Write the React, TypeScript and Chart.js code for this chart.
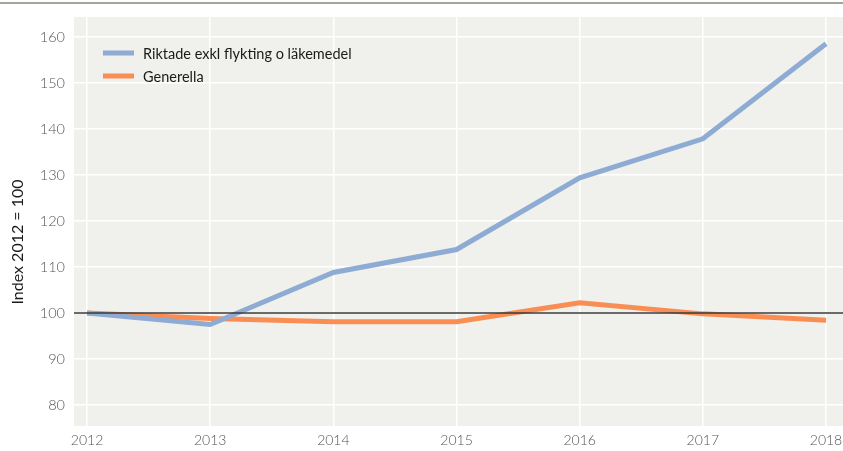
import React, { useEffect, useRef } from "react";
import { Chart, registerables } from "chart.js";

Chart.register(...registerables);

const years = [2012, 2013, 2014, 2015, 2016, 2017, 2018];
const riktade = [100, 97.5, 108.8, 113.8, 129.4, 137.9, 158.6];
const generella = [100, 98.8, 98.1, 98.1, 102.2, 99.8, 98.4];
const yTicks = [80, 90, 100, 110, 120, 130, 140, 150, 160];
const seriesLabels = ["Riktade exkl flykting o läkemedel", "Generella"];
const yTitle = "Index 2012 = 100";

const FONT = "Lato, 'Open Sans', sans-serif";

const decorPlugin = {
  id: "decor",
  beforeDraw(chart: any) {
    const { ctx, chartArea, width } = chart;
    ctx.save();
    ctx.fillStyle = "#ffffff";
    ctx.fillRect(0, 0, chart.width, chart.height);
    ctx.fillStyle = "#f0f0ec";
    ctx.fillRect(chartArea.left, chartArea.top, chartArea.right - chartArea.left, chartArea.bottom - chartArea.top);
    ctx.strokeStyle = "#8a857a";
    ctx.lineWidth = 1.5;
    ctx.beginPath();
    ctx.moveTo(0, 3);
    ctx.lineTo(width, 3);
    ctx.stroke();
    ctx.translate(18, 242);
    ctx.rotate(-Math.PI / 2);
    ctx.fillStyle = "#1a1a1a";
    ctx.font = `16px ${FONT}`;
    ctx.textAlign = "center";
    ctx.textBaseline = "middle";
    ctx.fillText(yTitle, 0, 0);
    ctx.restore();
  },
  afterDatasetsDraw(chart: any) {
    const { ctx, chartArea, scales } = chart;
    const y = scales.y.getPixelForValue(100);
    ctx.save();
    ctx.strokeStyle = "#3a3a3a";
    ctx.lineWidth = 1.5;
    ctx.beginPath();
    ctx.moveTo(chartArea.left, y);
    ctx.lineTo(chartArea.right, y);
    ctx.stroke();
    const items = chart.data.datasets;
    ctx.font = `14.5px ${FONT}`;
    ctx.textBaseline = "middle";
    ctx.textAlign = "left";
    items.forEach((ds: any, i: number) => {
      const ly = 53 + i * 23;
      ctx.strokeStyle = ds.borderColor;
      ctx.lineWidth = 5;
      ctx.beginPath();
      ctx.moveTo(103, ly);
      ctx.lineTo(134, ly);
      ctx.stroke();
      ctx.fillStyle = "#1a1a1a";
      ctx.fillText(ds.label, 143, ly + 1);
    });
    ctx.restore();
  },
};

export default function App() {
  const ref = useRef<HTMLCanvasElement>(null);
  useEffect(() => {
    document.body.style.margin = "0";
    const chart = new Chart(ref.current!, {
      type: "line",
      data: {
        datasets: [
          {
            label: seriesLabels[0],
            data: years.map((x, i) => ({ x, y: riktade[i] })),
            borderColor: "#8eabd4",
            borderWidth: 5,
            pointRadius: 0,
            tension: 0,
            borderCapStyle: "butt",
          },
          {
            label: seriesLabels[1],
            data: years.map((x, i) => ({ x, y: generella[i] })),
            borderColor: "#f98e54",
            borderWidth: 5,
            pointRadius: 0,
            tension: 0,
            borderCapStyle: "butt",
          },
        ],
      },
      options: {
        animation: false,
        responsive: false,
        layout: { padding: { top: 17, right: 0, left: 0, bottom: 0 } },
        plugins: { legend: { display: false }, tooltip: { enabled: false } },
        scales: {
          x: {
            type: "linear",
            min: 2011.894,
            max: 2018.138,
            afterBuildTicks: (s: any) => {
              s.ticks = years.map((v) => ({ value: v }));
            },
            afterFit: (s: any) => {
              s.height = 25;
              s.paddingLeft = 0;
              s.paddingRight = 0;
            },
            border: { display: false },
            grid: { color: "#ffffff", lineWidth: 1.5, drawTicks: false },
            ticks: {
              color: "#555555",
              font: { family: FONT, size: 14, weight: 300 },
              padding: 6,
              callback: (v: any) => String(v),
              maxRotation: 0,
              autoSkip: false,
            },
          },
          y: {
            min: 75.4,
            max: 164.4,
            afterBuildTicks: (s: any) => {
              s.ticks = yTicks.map((v) => ({ value: v }));
            },
            afterFit: (s: any) => {
              s.width = 74;
              s.paddingTop = 0;
              s.paddingBottom = 0;
            },
            border: { display: false },
            grid: { color: "#ffffff", lineWidth: 1.5, drawTicks: false },
            ticks: {
              color: "#555555",
              font: { family: FONT, size: 14.5, weight: 300 },
              padding: 9,
            },
          },
        },
      },
      plugins: [decorPlugin],
    } as any);
    return () => chart.destroy();
  }, []);
  return <canvas ref={ref} width={843} height={451} style={{ display: "block" }} />;
}
